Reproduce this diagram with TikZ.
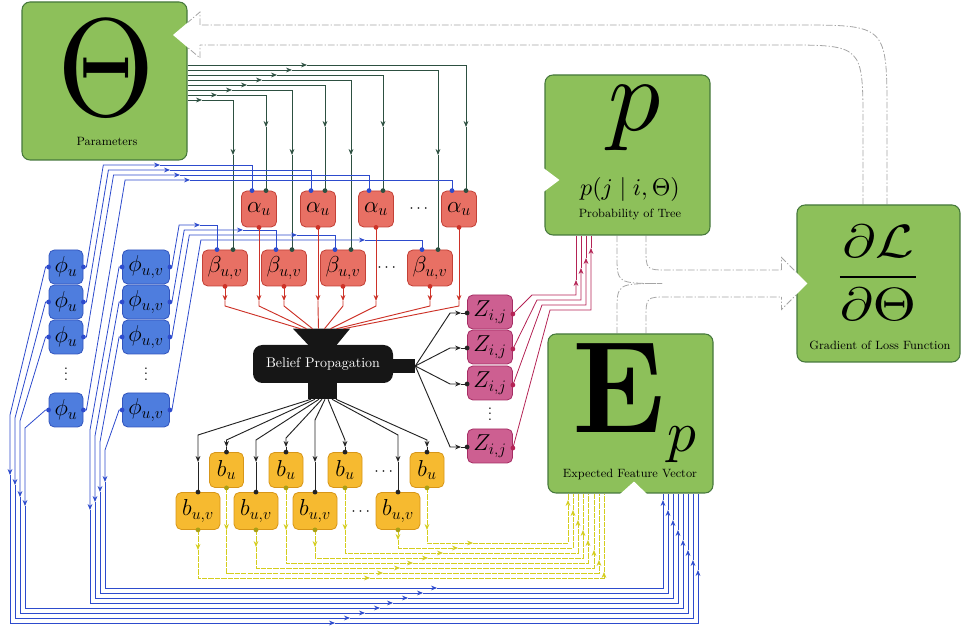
\documentclass[tikz,border=0pt]{standalone}
\usepackage{amsmath}
\usetikzlibrary{calc,arrows.meta,backgrounds}
\definecolor{boxfill}{RGB}{141,192,90}
\definecolor{boxedge}{RGB}{70,120,60}
\definecolor{redfill}{RGB}{232,112,100}
\definecolor{rededge}{RGB}{195,65,55}
\definecolor{bluefill}{RGB}{78,125,222}
\definecolor{blueedge}{RGB}{50,85,190}
\definecolor{yelfill}{RGB}{246,186,48}
\definecolor{yeledge}{RGB}{215,150,25}
\definecolor{pinkfill}{RGB}{205,95,145}
\definecolor{pinkedge}{RGB}{165,45,100}
\definecolor{thcol}{RGB}{45,80,65}
\definecolor{blcol}{RGB}{45,75,205}
\definecolor{rdcol}{RGB}{205,50,40}
\definecolor{mgcol}{RGB}{180,35,85}
\definecolor{ylcol}{RGB}{212,205,30}
\definecolor{yldot}{RGB}{170,160,20}
\definecolor{bkcol}{RGB}{35,35,35}
\definecolor{fatgray}{RGB}{165,165,165}
\definecolor{bpblack}{RGB}{22,22,22}
\tikzset{
  box/.style={draw=boxedge,fill=boxfill,line width=0.8pt,rounded corners=6pt,inner sep=0pt},
  var/.style={rounded corners=4pt,inner sep=0pt,line width=0.6pt,font=\LARGE,minimum height=25.5pt},
  redv/.style={var,draw=rededge,fill=redfill,minimum height=27pt},
  bluev/.style={var,draw=blueedge,fill=bluefill},
  yelv/.style={var,draw=yeledge,fill=yelfill,minimum height=26.25pt},
  pinkv/.style={var,draw=pinkedge,fill=pinkfill},
  capt/.style={font=\fontsize{9}{10}\selectfont,inner sep=0pt},
  big/.style={inner sep=0pt},
  dotsn/.style={inner sep=0pt},
  thline/.style={draw=thcol,line width=0.6pt},
  blline/.style={draw=blcol,line width=0.6pt},
  rdline/.style={draw=rdcol,line width=0.7pt},
  mgline/.style={draw=mgcol,line width=0.6pt},
  ylline/.style={draw=ylcol,line width=0.6pt,dash pattern=on 4pt off 0.8pt},
  bkline/.style={draw=bkcol,line width=0.7pt},
  fatedge/.style={draw=fatgray,line width=0.6pt,dash pattern=on 5pt off 1.5pt on 1pt off 1.5pt}
}
\begin{document}
\begin{tikzpicture}[x=0.75pt,y=-0.75pt,>={Stealth[length=4.5pt,width=3.6pt]}]
\useasboundingbox (0,0) rectangle (961,630);
% green boxes
\node[box,minimum width=123.75pt,minimum height=118.5pt] (theta) at (104.5,81) {};
\node[box,minimum width=123.75pt,minimum height=120pt] (prob) at (627.5,155) {};
\node[box,minimum width=122.25pt,minimum height=117.75pt] (grad) at (878.5,283.5) {};
\node[box,minimum width=123.75pt,minimum height=119.25pt] (expf) at (630.5,413.5) {};
\node[big] (thsym) at (106,68) {\scalebox{9.4}[10.4]{$\Theta$}};
\node[capt] (thlab) at (107,141) {Parameters};
\node[big] (psym) at (635,118) {\scalebox{7.8}{$p$}};
\node[big] (pform) at (630,190) {\scalebox{1.8}{$p(j\mid i,\Theta)$}};
\node[capt] (plab) at (630,215) {Probability of Tree};
\node[big] (gsym) at (878,273) {\scalebox{4.2}[3.5]{$\dfrac{\partial\mathcal{L}}{\partial\Theta}$}};
\node[capt] (glab) at (880,345) {Gradient of Loss Function};
\node[big] (esym) at (619,388) {\scalebox{9.2}[9.8]{$\mathbf{E}$}};
\node[big] (esub) at (682,445) {\scalebox{4.3}{$p$}};
\node[capt] (elab) at (630,475) {Expected Feature Vector};

% hollow gradient arrows
\begin{scope}[on background layer]
  \coordinate (gl) at ($(grad.north)+(-15.5,0)$);
  \coordinate (gr) at ($(grad.north)+(8.5,0)$);
  \coordinate (tb) at (200,35);
  \draw[fatedge] (gr) -- (887,115) .. controls (887,25) .. (797,25) -- ($(tb)+(0,-10)$);
  \draw[fatedge] (gl) -- (863,125) .. controls (863,45) .. (783,45) -- ($(tb)+(0,10)$);
  \draw[fatedge] ($(tb)+(0,-10)$) -- ($(tb)+(0,-23)$) -- ($(tb)+(-27,0)$) -- ($(tb)+(0,23)$) -- ($(tb)+(0,10)$);
  \coordinate (pl) at ($(prob.south)+(-10.5,0)$);
  \coordinate (pr) at ($(prob.south)+(18.5,0)$);
  \coordinate (el) at ($(expf.north)+(-13.5,0)$);
  \coordinate (er) at ($(expf.north)+(15.5,0)$);
  \coordinate (gh) at ($(grad.west)+(-15,0)$);
  \draw[fatedge] (pl) -- (617,255) .. controls (617,283.5) .. (662,283.5);
  \draw[fatedge] (el) -- (617,312) .. controls (617,283.5) .. (662,283.5);
  \draw[fatedge] (pr) -- (646,248) .. controls (646,270) .. (668,270) -- ($(gh)+(0,-13.5)$);
  \draw[fatedge] (er) -- (646,319) .. controls (646,297) .. (668,297) -- ($(gh)+(0,13.5)$);
  \draw[fatedge] ($(gh)+(0,-13.5)$) -- ($(gh)+(0,-26)$) -- ($(gh)+(26,0)$) -- ($(gh)+(0,26)$) -- ($(gh)+(0,13.5)$);
\end{scope}
\fill[white] ($(tb)+(-12,-12.7)$) -- ($(tb)+(-27,0)$) -- ($(tb)+(-12,12.7)$) -- cycle;
\fill[white] ($(gh)+(14,-12)$) -- ($(gh)+(26,0)$) -- ($(gh)+(14,12)$) -- cycle;
\fill[white] ($(prob.west)+(-1,13)$) -- ($(prob.west)+(15,25)$) -- ($(prob.west)+(-1,37)$) -- cycle;
\fill[white] ($(expf.south)+(-11,1)$) -- ($(expf.south)+(3.5,-12)$) -- ($(expf.south)+(17,1)$) -- cycle;

% variable nodes
\foreach \n/\x in {1/259,2/318,3/376,4/459}
  \node[redv,minimum width=26.25pt] (al\n) at (\x,209) {$\alpha_u$};
\foreach \n/\x in {1/225,2/284,3/343,4/430}
  \node[redv,minimum width=33.75pt] (bt\n) at (\x,268) {$\beta_{u,v}$};
\node[dotsn,font=\large] (adots) at (420,209) {$\cdots$};
\node[dotsn,font=\large] (bdots) at (388,268) {$\cdots$};
\foreach \n/\y in {1/267,2/302,3/337,4/410}{
  \node[bluev,minimum width=25.5pt] (pu\n) at (66,\y) {$\phi_u$};
  \node[bluev,minimum width=35.25pt] (puv\n) at (146,\y) {$\phi_{u,v}$};
}
\node[dotsn,font=\large] (pudots) at (66,370) {$\vdots$};
\node[dotsn,font=\large] (puvdots) at (146,370) {$\vdots$};
\foreach \n/\y in {1/312,2/347,3/383,4/446}
  \node[pinkv,minimum width=33.75pt] (z\n) at (490,\y) {$Z_{i,j}$};
\node[dotsn,font=\large] (zdots) at (490,410) {$\vdots$};
\foreach \n/\x in {1/226.5,2/286,3/345,4/427}
  \node[yelv,minimum width=25.5pt] (bu\n) at (\x,470) {$b_u$};
\foreach \n/\x in {1/198,2/256,3/315,4/398}
  \node[yelv,minimum width=33pt,minimum height=27.75pt] (buv\n) at (\x,511) {$b_{u,v}$};
\node[dotsn,font=\large] (budots) at (385,472) {$\cdots$};
\node[dotsn,font=\large] (buvdots) at (362,512) {$\cdots$};

% belief propagation
\node[fill=bpblack,rounded corners=7pt,minimum width=105pt,minimum height=28.5pt,inner sep=0pt,
  text=white,font=\fontsize{10.5}{12}\selectfont] (bp) at (323,364) {Belief Propagation};
\fill[bpblack] ($(bp.north)+(-30,-16)$) -- ($(bp.north)+(27,-16)$) -- ($(bp.north)+(13,1)$) -- ($(bp.north)+(-14,1)$) -- cycle;
\fill[bpblack] ($(bp.south)+(-15,-1)$) rectangle ($(bp.south)+(14,16)$);
\fill[bpblack] ($(bp.east)+(-1,-5)$) rectangle ($(bp.east)+(22,9)$);
\coordinate (bpt) at ($(bp.north)+(-1.5,-16)$);
\coordinate (bpb) at ($(bp.south)+(0,16)$);
\coordinate (bpr) at ($(bp.east)+(22,2)$);

% parameters to alpha and beta
\foreach \i/\t/\dx/\va in {1/al4/7/127,2/bt4/8/155,3/al3/7/127,4/bt3/8/155,5/al2/7/127,6/bt2/8/155,7/al1/7/127,8/bt1/8/155}{
  \pgfmathsetmacro{\yh}{60+5*\i}
  \pgfmathsetmacro{\xa}{322-15*\i}
  \coordinate (h) at (\xa,\yh);
  \coordinate (v) at (0,\va);
  \coordinate (tp) at ($(\t.north)+(\dx,0)$);
  \draw[thline,->] (theta.east |- h) -- (h);
  \draw[thline,->] (h) -- (tp |- h) -- (tp |- v);
  \draw[thline] (tp |- v) -- (tp);
  \fill[thcol] (tp) circle (1.8pt);
}

% phi to alpha and beta
\foreach \k/\yk/\yh/\xa in {1/267/165/160,2/302/170/170,3/337/175/180,4/410/180/190}{
  \coordinate (s) at ($(pu\k.east)+(3,0)$);
  \coordinate (bd) at ({86+0.17*(\yk-\yh)},\yh);
  \coordinate (tp) at ($(al\k.north)+(-7,0)$);
  \draw[blline,->] (pu\k.east) -- (s) -- (bd) -- (\xa,\yh);
  \draw[blline] (\xa,\yh) -- (tp |- bd) -- (tp);
  \fill[blcol] (tp) circle (1.8pt) (pu\k.east) circle (1.8pt);
}
\foreach \k/\yk/\yh/\xa in {1/267/225/200,2/302/230/243,3/337/235/297,4/410/240/365}{
  \coordinate (s) at ($(puv\k.east)+(2,0)$);
  \coordinate (bd) at ({172+0.17*(\yk-\yh)},\yh);
  \coordinate (tp) at ($(bt\k.north)+(-8,0)$);
  \draw[blline,->] (puv\k.east) -- (s) -- (bd) -- (\xa,\yh);
  \draw[blline] (\xa,\yh) -- (tp |- bd) -- (tp);
  \fill[blcol] (tp) circle (1.8pt) (puv\k.east) circle (1.8pt);
}

% phi to expected features
\foreach \k/\xl/\yv/\ya/\yb/\xa/\xe/\ye in {1/10/415/475/623/335/698/570,2/15/418/485/618/350/693/560,3/20/421/497/613/365/688/550,4/25/428/506/608/380/683/540}{
  \coordinate (s) at ($(pu\k.west)+(-3,0)$);
  \coordinate (e) at (\xe,\ye);
  \draw[blline,->] (pu\k.west) -- (s) -- (\xl,\yv) -- (\xl,\ya);
  \draw[blline,->] (\xl,\ya) -- (\xl,\yb) -- (\xa,\yb);
  \draw[blline,->] (\xa,\yb) -- (\xe,\yb) -- (e);
  \draw[blline] (e) -- (expf.south -| e);
  \fill[blcol] (pu\k.west) circle (1.8pt);
}
\foreach \k/\xl/\yv/\ya/\yb/\xa/\xe/\ye in {1/90/430/510/603/393/678/530,2/95/436/502/598/408/673/520,3/100/442/492/593/423/668/510,4/105/450/482/588/437/663/500}{
  \coordinate (s) at ($(puv\k.west)+(-3,0)$);
  \coordinate (e) at (\xe,\ye);
  \draw[blline,->] (puv\k.west) -- (s) -- (\xl,\yv) -- (\xl,\ya);
  \draw[blline,->] (\xl,\ya) -- (\xl,\yb) -- (\xa,\yb);
  \draw[blline,->] (\xa,\yb) -- (\xe,\yb) -- (e);
  \draw[blline] (e) -- (expf.south -| e);
  \fill[blcol] (puv\k.west) circle (1.8pt);
}

% alpha and beta into belief propagation
\coordinate (ry) at (0,301);
\foreach \nd/\fo in {bt1/-21,al1/-15,bt2/-9,al2/-3,bt3/3,al3/9,bt4/15,al4/22}{
  \draw[rdline,->] (\nd.south) -- (\nd.south |- ry);
  \draw[rdline] (\nd.south |- ry) -- ++(0,5) -- ($(bpt)+(\fo,0)$);
  \fill[rdcol] (\nd.south) circle (1.8pt);
}

% belief propagation out
\foreach \k in {1,...,4}{
  \coordinate (t) at ($(z\k.west)+(0,1)$);
  \draw[bkline,->] (bpr) -- ($(t)+(-17,0)$) -- ($(t)+(-6,0)$);
  \draw[bkline] ($(t)+(-6,0)$) -- (t);
  \fill[bkcol] (t) circle (1.8pt);
}
\foreach \nd/\so/\yb/\ya in {buv1/-12/435/462,bu1/-8/440/447,buv2/-4/440/462,bu2/-1/438/447,buv3/2/420/462,bu3/5/440/447,buv4/9/435/462,bu4/13/440/447}{
  \coordinate (yb) at (0,\yb);
  \coordinate (ya) at (0,\ya);
  \draw[bkline,->] ($(bpb)+(\so,0)$) -- (\nd.north |- yb) -- (\nd.north |- ya);
  \draw[bkline] (\nd.north |- ya) -- (\nd.north);
  \fill[bkcol] (\nd.north) circle (1.8pt);
}

% Z to probability of tree
\foreach \k/\yh/\xb/\xv/\ya in {1/295/532/576/280,2/300/537/581/268,3/305/542/586/258,4/310/550/591/248}{
  \coordinate (s) at ($(z\k.east)+(0,2)$);
  \coordinate (v) at (\xv,\ya);
  \draw[mgline,->] (s) -- (\xb,\yh) -- (\xv,\yh) -- (v);
  \draw[mgline] (v) -- (prob.south -| v);
  \fill[mgcol] (s) circle (1.8pt);
}

% beliefs to expected features
\foreach \nd/\ya/\yb/\xa/\xe/\ye in {bu4/530/543/473/568/500,buv4/540/548/458/573/510,bu3/530/553/443/578/520,buv3/547/558/428/583/530,bu2/530/563/413/588/540,buv2/547/568/400/594/550,bu1/530/573/383/599/560,buv1/550/578/370/604/572}{
  \coordinate (ya) at (0,\ya);
  \coordinate (yb) at (0,\yb);
  \coordinate (e) at (\xe,\ye);
  \draw[ylline,->] (\nd.south) -- (\nd.south |- ya);
  \draw[ylline,->] (\nd.south |- ya) -- (\nd.south |- yb) -- (\xa,\yb);
  \draw[ylline,->] (\xa,\yb) -- (\xe,\yb) -- (e);
  \draw[ylline] (e) -- (expf.south -| e);
  \fill[yldot] (\nd.south) circle (1.8pt);
}
\end{tikzpicture}
\end{document}
